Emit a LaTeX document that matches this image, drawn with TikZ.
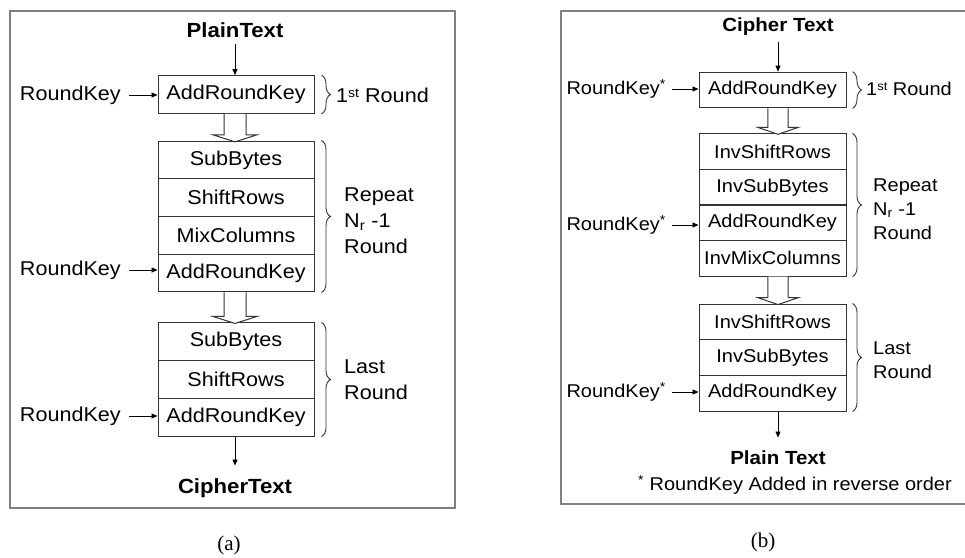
\documentclass[tikz,border=0pt]{standalone}
\usepackage{fontspec}
\setmainfont{Liberation Sans}[FakeStretch=1.08]
\newfontfamily\capfont{Liberation Serif}
\usetikzlibrary{arrows.meta,decorations.pathreplacing,calc}
\tikzset{pics/hollow/.style={code={\draw[draw=black!80, line width=1pt, fill=white] (-11,0) -- (-11,#1-7) -- (-22,#1-7) -- (0,#1) -- (22,#1-7) -- (11,#1-7) -- (11,0);}}}
\begin{document}
\begin{tikzpicture}[x=1pt,y=-1pt,
  frame/.style={draw=black!50, line width=1.8pt},
  blk/.style={draw=black!80, line width=1pt, minimum width=156pt, minimum height=37.7pt, inner sep=0pt, font=\fontsize{20}{22}\selectfont},
  blkb/.style={blk, minimum width=147pt, minimum height=35.6pt, font=\fontsize{18.5}{21}\selectfont},
  arr/.style={draw=black, line width=0.8pt, -{Triangle[length=6pt,width=5pt]}},
  lbl/.style={inner sep=0pt, font=\fontsize{20}{26}\selectfont, align=left},
  lblb/.style={inner sep=0pt, font=\fontsize{18.5}{24}\selectfont, align=left},
  ttl/.style={inner sep=0pt, font=\bfseries\fontsize{20.5}{22}\selectfont},
  ttlb/.style={inner sep=0pt, font=\bfseries\fontsize{19}{22}\selectfont},
  brc/.style={draw=black!80, line width=0.9pt, decorate, decoration={brace, amplitude=9pt}},
  sup/.style={}
]
\useasboundingbox (0,0) rectangle (965,557);
\fill[white] (0,0) rectangle (965,557);
\draw[frame] (10,11) rectangle (455,508);
\draw[frame] (561,11) rectangle (975,504);

% ---------- panel (a)
\node[ttl] (pta) at (235,30) {PlainText};
\node[blk] (a1) at (236,94.5) {AddRoundKey};
\node[blk] (a2) at (236,159.9) {SubBytes};
\node[blk] (a3) at (236,197.6) {ShiftRows};
\node[blk] (a4) at (236,235.4) {MixColumns};
\node[blk] (a5) at (236,273.1) {AddRoundKey};
\node[blk] (a6) at (236,341.8) {SubBytes};
\node[blk] (a7) at (236,379.5) {ShiftRows};
\node[blk] (a8) at (236,417.2) {AddRoundKey};
\node[ttl] (cta) at (235,488) {CipherText};

\draw[arr, shorten <=6pt] (pta.south) -- (pta.south |- a1.north);
\draw[arr] (a8.south -| cta.north) -- ++(0,29);
\pic at (a1.south -| pta.south) {hollow=28};
\pic at (a5.south -| pta.south) {hollow=31};

\node[lbl, anchor=east] (ka1) at (121,95) {RoundKey};
\node[lbl, anchor=east] (ka2) at (121,270) {RoundKey};
\node[lbl, anchor=east] (ka3) at (121,416) {RoundKey};
\draw[arr, shorten <=8pt] (ka1.east) -- (ka1.east -| a1.west);
\draw[arr, shorten <=8pt] (ka2.east) -- (ka2.east -| a5.west);
\draw[arr, shorten <=8pt] (ka3.east) -- (ka3.east -| a8.west);

\draw[brc] ($(a1.north east)+(7,0)$) -- ($(a1.south east)+(7,0)$);
\draw[brc] ($(a2.north east)+(7,0)$) -- ($(a5.south east)+(7,0)$);
\draw[brc] ($(a6.north east)+(7,0)$) -- ($(a8.south east)+(7,0)$);
\node[lbl, anchor=west] (r1a) at (336,95) {1{\fontsize{13}{13}\selectfont\raisebox{5pt}{st}} Round};
\node[lbl, anchor=west] (r2a) at (344,221) {Repeat\\N\textsubscript{r} -1\\Round};
\node[lbl, anchor=west] (r3a) at (344,380) {Last\\Round};

\node[font=\capfont\fontsize{21}{24}\selectfont] (capa) at (229,545) {(a)};

% ---------- panel (b)
\node[ttlb] (ctb) at (778,27) {Cipher Text};
\node[blkb] (b1) at (772.5,90) {AddRoundKey};
\node[blkb] (b2) at (772.5,151.75) {InvShiftRows};
\node[blkb] (b3) at (772.5,187.25) {InvSubBytes};
\node[blkb] (b4) at (772.5,222.75) {AddRoundKey};
\node[blkb] (b5) at (772.5,258.25) {InvMixColumns};
\node[blkb] (b6) at (772.5,321.8) {InvShiftRows};
\node[blkb] (b7) at (772.5,357.5) {InvSubBytes};
\node[blkb] (b8) at (772.5,393.2) {AddRoundKey};
\node[ttlb] (ptb) at (778,458) {Plain Text};
\node[lblb] (note) at (795,485) {\textsuperscript{*} RoundKey Added in reverse order};

\draw[arr, shorten <=6pt] (ctb.south) -- (ctb.south |- b1.north);
\draw[arr] (b8.south -| ptb.north) -- ++(0,26);
\pic[xscale=0.93] at (b1.south -| ctb.south) {hollow=26};
\pic[xscale=0.93] at (b5.south -| ctb.south) {hollow=28};

\node[lblb, anchor=east] (kb1) at (666,89) {RoundKey\textsuperscript{*}};
\node[lblb, anchor=east] (kb2) at (666,225) {RoundKey\textsuperscript{*}};
\node[lblb, anchor=east] (kb3) at (666,392) {RoundKey\textsuperscript{*}};
\draw[arr, shorten <=6pt] (kb1.east) -- (kb1.east -| b1.west);
\draw[arr, shorten <=6pt] (kb2.east) -- (kb2.east -| b4.west);
\draw[arr, shorten <=6pt] (kb3.east) -- (kb3.east -| b8.west);

\draw[brc] ($(b1.north east)+(6,0)$) -- ($(b1.south east)+(6,0)$);
\draw[brc] ($(b2.north east)+(6,0)$) -- ($(b5.south east)+(6,0)$);
\draw[brc] ($(b6.north east)+(6,0)$) -- ($(b8.south east)+(6,0)$);
\node[lblb, anchor=west] (r1b) at (866,89) {1{\fontsize{12}{12}\selectfont\raisebox{5pt}{st}} Round};
\node[lblb, anchor=west] (r2b) at (873,209) {Repeat\\N\textsubscript{r} -1\\Round};
\node[lblb, anchor=west] (r3b) at (873,360) {Last\\Round};

\node[font=\capfont\fontsize{21}{24}\selectfont] (capb) at (763,542) {(b)};
\end{tikzpicture}
\end{document}
